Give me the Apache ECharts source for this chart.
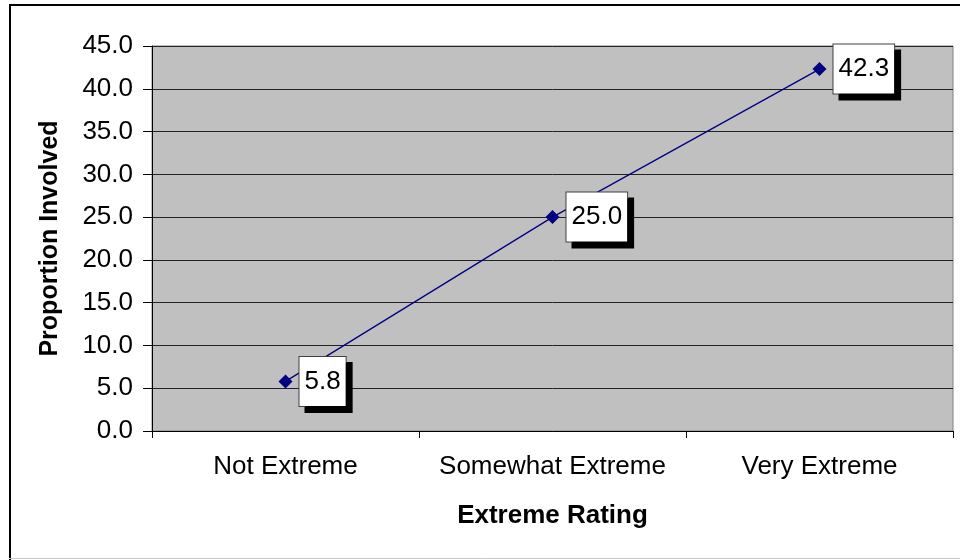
<!DOCTYPE html>
<html>
<head>
<meta charset="utf-8">
<script src="https://cdn.jsdelivr.net/npm/echarts@6/dist/echarts.min.js"></script>
<style>
  html, body { margin: 0; padding: 0; background: #fff; }
  #chart { width: 960px; height: 560px; }
</style>
</head>
<body>
<div id="chart"></div>
<script>
// Share of people involved, by how extreme the rating was
const categories = ['Not Extreme', 'Somewhat Extreme', 'Very Extreme'];
const proportionInvolved = [5.8, 25.0, 42.3];
const yTicks = { min: 0, max: 45, interval: 5 };

const FONT = '"Liberation Sans", Arial, sans-serif';

const chart = echarts.init(document.getElementById('chart'), null, { renderer: 'canvas' });

chart.setOption({
  animation: false,
  backgroundColor: '#ffffff',
  textStyle: { fontFamily: FONT },
  graphic: [
    // frame around the whole chart
    { type: 'line', shape: { x1: 10, y1: 4, x2: 10, y2: 560 }, style: { stroke: '#000', lineWidth: 2 } },
    { type: 'line', shape: { x1: 9, y1: 5, x2: 960, y2: 5 }, style: { stroke: '#000', lineWidth: 2 } },
    { type: 'line', shape: { x1: 9, y1: 558.5, x2: 960, y2: 558.5 }, style: { stroke: '#c8c8c8', lineWidth: 1 } }
  ],
  grid: {
    left: 152, top: 46, right: 7, bottom: 129,
    show: true,
    backgroundColor: '#c0c0c0',
    borderColor: '#808080',
    borderWidth: 1
  },
  xAxis: {
    type: 'category',
    data: categories,
    boundaryGap: true,
    name: 'Extreme Rating',
    nameLocation: 'middle',
    nameGap: 72,
    nameTextStyle: { fontFamily: FONT, fontSize: 26, fontWeight: 'bold', color: '#000' },
    axisLine: { lineStyle: { color: '#000', width: 1 } },
    axisTick: { show: true, length: 7, lineStyle: { color: '#000' } },
    axisLabel: { interval: 0, fontFamily: FONT, fontSize: 26, color: '#000', margin: 23 },
    splitLine: { show: false }
  },
  yAxis: {
    type: 'value',
    min: yTicks.min,
    max: yTicks.max,
    interval: yTicks.interval,
    name: 'Proportion Involved',
    nameLocation: 'middle',
    nameGap: 89,
    nameRotate: 90,
    nameTextStyle: { fontFamily: FONT, fontSize: 25, fontWeight: 'bold', color: '#000' },
    axisLine: { show: true, lineStyle: { color: '#000', width: 1 } },
    axisTick: { show: true, length: 9, lineStyle: { color: '#000' } },
    axisLabel: {
      fontFamily: FONT, fontSize: 26, color: '#000', margin: 19,
      formatter: v => v.toFixed(1)
    },
    splitLine: { show: true, lineStyle: { color: '#222', width: 1 } }
  },
  series: [{
    type: 'line',
    data: proportionInvolved,
    symbol: 'diamond',
    symbolSize: 14,
    lineStyle: { color: '#000080', width: 1.3 },
    itemStyle: { color: '#000080' },
    label: {
      show: true,
      position: 'right',
      distance: 7,
      formatter: p => p.value.toFixed(1),
      fontFamily: FONT,
      fontSize: 26,
      color: '#000',
      backgroundColor: '#fff',
      borderColor: '#404040',
      borderWidth: 1,
      padding: [10, 5, 10, 5],
      lineHeight: 29,
      shadowColor: '#000',
      shadowBlur: 0,
      shadowOffsetX: 6,
      shadowOffsetY: 6
    }
  }]
});
</script>
</body>
</html>
